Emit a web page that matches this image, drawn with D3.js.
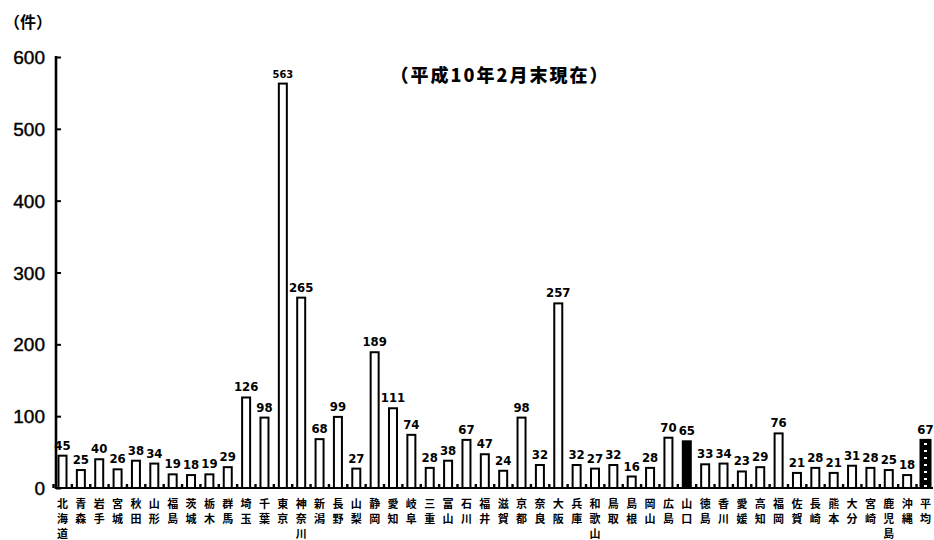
<!DOCTYPE html>
<html>
<head>
<meta charset="utf-8">
<script src="https://cdn.jsdelivr.net/npm/d3@7"></script>
<style>
  html, body { margin: 0; padding: 0; background: #fff; }
  svg { display: block; }
</style>
</head>
<body>
<script>
// 都道府県別件数（平成10年2月末現在）
const prefectures = [
  "北海道","青森","岩手","宮城","秋田","山形","福島","茨城","栃木","群馬",
  "埼玉","千葉","東京","神奈川","新潟","長野","山梨","静岡","愛知","岐阜",
  "三重","富山","石川","福井","滋賀","京都","奈良","大阪","兵庫","和歌山",
  "鳥取","島根","岡山","広島","山口","徳島","香川","愛媛","高知","福岡",
  "佐賀","長崎","熊本","大分","宮崎","鹿児島","沖縄","平均"
];
const counts = [
  45, 25, 40, 26, 38, 34, 19, 18, 19, 29,
  126, 98, 563, 265, 68, 99, 27, 189, 111, 74,
  28, 38, 67, 47, 24, 98, 32, 257, 32, 27,
  32, 16, 28, 70, 65, 33, 34, 23, 29, 76,
  21, 28, 21, 31, 28, 25, 18, 67
];
const yTicks = [0, 100, 200, 300, 400, 500, 600];
const highlighted = "山口";
const averageLabel = "平均";
const unitLabel = "（件）";
const titleText = "（平成10年2月末現在）";

const W = 934, H = 540;
const svg = d3.select("body").append("svg").attr("width", W).attr("height", H);

const defs = svg.append("defs");
const pat = defs.append("pattern")
  .attr("id", "avgPattern").attr("patternUnits", "userSpaceOnUse")
  .attr("width", 10).attr("height", 7);
pat.append("rect").attr("width", 10).attr("height", 7).attr("fill", "#000");
pat.append("rect").attr("x", 4).attr("y", 2).attr("width", 3).attr("height", 2).attr("fill", "#fff");

const x = d3.scalePoint().domain(prefectures).range([62.5, 925.5]);
const y = d3.scaleLinear().domain([0, 600]).range([488, 57]);
const step = x.step();
const barW = 8;

// Y axis
const yAxis = svg.append("g").attr("transform", "translate(56,0)")
  .call(d3.axisRight(y).tickValues(yTicks).tickSize(5).tickFormat(""));
yAxis.select(".domain").remove();
yAxis.selectAll(".tick line").attr("stroke", "#000").attr("stroke-width", 2);
svg.append("line").attr("x1", 56).attr("x2", 56).attr("y1", y(600) - 1).attr("y2", y(0) + 1)
  .attr("stroke", "#000").attr("stroke-width", 2.6);

svg.append("g").selectAll("text").data(yTicks).join("text")
  .attr("x", 45).attr("y", d => y(d) + 7)
  .attr("text-anchor", "end")
  .attr("font-family", "Liberation Sans, Arial, sans-serif")
  .attr("font-size", 19)
  .attr("stroke", "#000").attr("stroke-width", 0.4)
  .text(d => d);

// baseline
svg.append("line").attr("x1", 55).attr("x2", 933).attr("y1", y(0)).attr("y2", y(0))
  .attr("stroke", "#000").attr("stroke-width", 2.2);

// small marks between bars
svg.append("g").selectAll("rect").data(prefectures).join("rect")
  .attr("x", d => x(d) - step / 2 - 1).attr("y", y(0) - 4)
  .attr("width", 2.4).attr("height", 4).attr("fill", "#000");

// bars
const data = prefectures.map((p, i) => ({ p, v: counts[i] }));
svg.append("g").selectAll("rect").data(data).join("rect")
  .attr("x", d => x(d.p) - (d.p === averageLabel ? 5 : barW / 2))
  .attr("y", d => y(d.v))
  .attr("width", d => d.p === averageLabel ? 10 : barW)
  .attr("height", d => y(0) - y(d.v))
  .attr("fill", d => d.p === averageLabel ? "url(#avgPattern)" : (d.p === highlighted ? "#000" : "#fff"))
  .attr("stroke", "#000").attr("stroke-width", 2);

// value labels
svg.append("g").selectAll("text").data(data).join("text")
  .attr("x", d => x(d.p))
  .attr("y", d => y(d.v) - 6)
  .attr("text-anchor", "middle")
  .attr("font-family", "Liberation Sans Narrow, DejaVu Sans Condensed, Liberation Sans, sans-serif")
  .attr("font-size", d => d.v > 500 ? 11 : 13).attr("font-weight", "bold")
  .text(d => d.v);

// category labels, written vertically one character per line
const cat = svg.append("g").selectAll("text").data(prefectures).join("text")
  .attr("x", d => x(d))
  .attr("text-anchor", "middle")
  .attr("font-family", "Noto Sans CJK JP, sans-serif")
  .attr("font-size", 11).attr("font-weight", "bold");
cat.selectAll("tspan").data(d => Array.from(d).map((c, i) => ({ c, i, p: d }))).join("tspan")
  .attr("x", d => x(d.p))
  .attr("y", d => 508 + d.i * 15)
  .text(d => d.c);

// unit and title
svg.append("text").attr("x", 4).attr("y", 28)
  .attr("font-family", "Noto Sans CJK JP, sans-serif")
  .attr("font-size", 16).attr("font-weight", "bold")
  .text(unitLabel);
svg.append("text").attr("x", 500).attr("y", 82)
  .attr("text-anchor", "middle")
  .attr("font-family", "Noto Sans CJK JP, sans-serif")
  .attr("font-size", 18).attr("font-weight", "900")
  .attr("letter-spacing", 2)
  .text(titleText);
</script>
</body>
</html>
